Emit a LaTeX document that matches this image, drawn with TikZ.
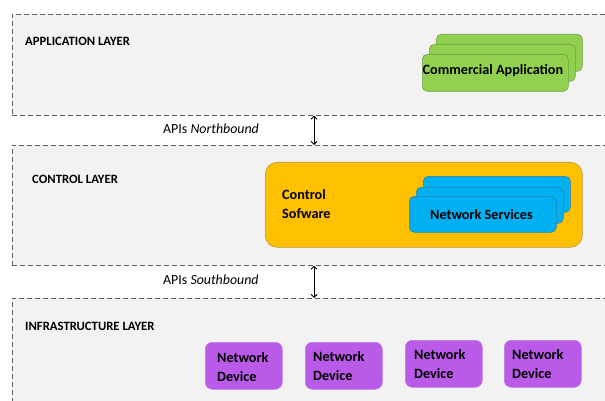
\documentclass[tikz,border=0pt]{standalone}
\usepackage{fontspec}
\setmainfont{Carlito}
\usetikzlibrary{arrows.meta}
\definecolor{layerbg}{HTML}{F2F2F2}
\definecolor{layerdraw}{HTML}{606060}
\definecolor{appfill}{HTML}{92D050}
\definecolor{appdraw}{HTML}{6E9F45}
\definecolor{ctlfill}{HTML}{FFC000}
\definecolor{ctldraw}{HTML}{B8963A}
\definecolor{nsfill}{HTML}{00B0F0}
\definecolor{nsdraw}{HTML}{2F7FB0}
\definecolor{devfill}{HTML}{B95BE8}
\definecolor{devdraw}{HTML}{C07CE8}
\tikzset{
  layerbox/.style={draw=layerdraw, fill=layerbg, dash pattern=on 5pt off 3pt, line width=0.6pt,
    rectangle, anchor=north west, inner sep=0pt},
  layertitle/.style={font=\bfseries\fontsize{12.7}{14}\selectfont, anchor=west, inner sep=0pt},
  appbox/.style={draw=appdraw, fill=appfill, rounded corners=5pt, line width=0.6pt,
    minimum width=146pt, minimum height=37pt, anchor=north west, inner sep=0pt},
  nsbox/.style={draw=nsdraw, fill=nsfill, rounded corners=5pt, line width=0.6pt,
    minimum width=147pt, minimum height=36pt, anchor=north west, inner sep=0pt},
  ctlbox/.style={draw=ctldraw, fill=ctlfill, rounded corners=12pt, line width=0.6pt,
    minimum width=317pt, minimum height=85pt, anchor=north west, inner sep=0pt},
  devbox/.style={draw=devdraw, fill=devfill, rounded corners=7pt, line width=0.5pt,
    minimum width=77pt, minimum height=47pt, anchor=north west, inner sep=0pt},
  boxtext/.style={font=\bfseries\fontsize{14.2}{16}\selectfont, anchor=west, inner sep=0pt},
  twoline/.style={font=\bfseries\fontsize{14.2}{19}\selectfont, align=left, anchor=west, inner sep=0pt},
  apitext/.style={font=\fontsize{13.9}{16}\selectfont, anchor=west, inner sep=0pt},
  apiarrow/.style={{Straight Barb[length=3pt,width=6pt]}-{Straight Barb[length=3pt,width=6pt]}, line width=0.9pt, black},
}
\begin{document}
\begin{tikzpicture}[x=1pt,y=-1pt]
\useasboundingbox (0,0) rectangle (605,401);
\clip (0,0) rectangle (605,401);
\fill[white] (0,0) rectangle (605,401);
% layers
\node[layerbox, minimum width=610pt, minimum height=101pt] (app) at (12,14) {};
\node[layerbox, minimum width=610pt, minimum height=120pt] (ctl) at (12,145) {};
\node[layerbox, minimum width=610pt, minimum height=120pt] (inf) at (12,298) {};
\node[layertitle] (apptitle) at (25,41) {APPLICATION LAYER};
\node[layertitle] (ctltitle) at (32,179) {CONTROL LAYER};
\node[layertitle] (inftitle) at (25,326) {INFRASTRUCTURE LAYER};
% application stack
\node[appbox] (app3) at (436,34) {};
\node[appbox] (app2) at (429,44) {};
\node[appbox] (app1) at (422,54) {};
\node[boxtext] (apptext) at (422.5,71) {Commercial Application};
% control software
\node[ctlbox] (ctlsw) at (265,162) {};
\node[twoline] (ctltext) at (282,204) {Control\\Sofware};
\node[nsbox] (ns3) at (423,176) {};
\node[nsbox] (ns2) at (416,187) {};
\node[nsbox] (ns1) at (409,196) {};
\node[boxtext] (nstext) at (430,215) {Network Services};
% devices
\node[devbox] (d1) at (205,342) {};
\node[devbox] (d2) at (305,342) {};
\node[devbox] (d3) at (405,340) {};
\node[devbox] (d4) at (504,340) {};
\node[twoline] (t1) at (217,367) {Network\\Device};
\node[twoline] (t2) at (313,366) {Network\\Device};
\node[twoline] (t3) at (414,364) {Network\\Device};
\node[twoline] (t4) at (512,364) {Network\\Device};
% APIs
\coordinate (ax) at (314,0);
\draw[apiarrow] (app.south -| ax) -- (ctl.north -| ax);
\draw[apiarrow] (ctl.south -| ax) -- (inf.north -| ax);
\node[apitext] (north) at (163,129) {APIs \textit{Northbound}};
\node[apitext] (south) at (163,280) {APIs \textit{Southbound}};
\end{tikzpicture}
\end{document}
